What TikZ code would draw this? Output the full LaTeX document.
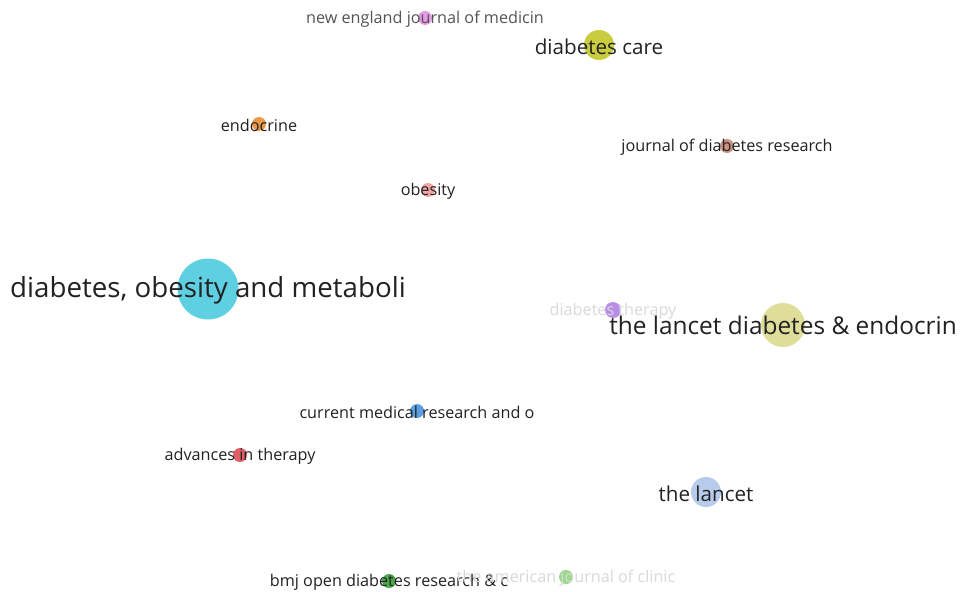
\documentclass[tikz,border=0pt]{standalone}
\usepackage{fontspec}
\setmainfont{Open Sans}
\usepackage{tikz}

% cluster colours
\definecolor{nejmcol}{HTML}{E39BE3}
\definecolor{carecol}{HTML}{C9CC3F}
\definecolor{endocol}{HTML}{EB9A48}
\definecolor{jdrcol}{HTML}{C9917F}
\definecolor{obescol}{HTML}{F2A7A7}
\definecolor{domcol}{HTML}{5FD0E2}
\definecolor{thercol}{HTML}{B98CE6}
\definecolor{ldecol}{HTML}{DEDD9A}
\definecolor{cmrocol}{HTML}{5B9FE0}
\definecolor{advcol}{HTML}{E05F66}
\definecolor{lancol}{HTML}{B7CBEB}
\definecolor{bmjcol}{HTML}{4AA84A}
\definecolor{ajcncol}{HTML}{9BD98C}
\definecolor{labdark}{HTML}{222222}
\definecolor{labgray}{HTML}{555555}
\definecolor{labfaint}{HTML}{D9D9D9}

\tikzset{
    journal/.style={circle,inner sep=0pt,minimum size=#1},
    lab/.style={font=\fontsize{#1}{#1}\selectfont,inner sep=0pt,yshift=-1.5pt},
}

\begin{document}
\begin{tikzpicture}[x=1pt,y=-1pt]
        \useasboundingbox[fill=white] (0,0) rectangle (960,591);
        % circles first, labels on top
        \foreach \nm/\px/\py/\d/\col in {nejm/425/18/14/nejmcol, care/599/45/30/carecol,
            endo/259/124/14/endocol, jdr/727/146/14/jdrcol, obes/428/190/14/obescol,
            dom/208/289/61/domcol, ther/613/310/16/thercol, lde/783/325/44/ldecol,
            cmro/417/411/14/cmrocol, adv/240/455/14/advcol, lancet/706/492/30/lancol,
            bmj/389/581/14/bmjcol, ajcn/566/577/14/ajcncol} {
            \node[journal=\d pt,fill=\col] (\nm) at (\px,\py) {};
        }
        \foreach \nm/\fs/\tc/\txt in {nejm/16.2/labgray/{new england journal of medicin},
            care/20.6/labdark/{diabetes care}, endo/16.2/labdark/{endocrine},
            jdr/16.2/labdark/{journal of diabetes research}, obes/16.2/labdark/{obesity},
            dom/27.7/labdark/{diabetes, obesity and metaboli}, ther/16.2/labfaint/{diabetes therapy},
            cmro/16.2/labdark/{current medical research and o}, adv/16.2/labdark/{advances in therapy},
            lancet/20.6/labdark/{the lancet}, bmj/16.2/labdark/{bmj open diabetes research \& c},
            ajcn/16.2/labfaint/{the american journal of clinic}} {
            \node[lab=\fs,text=\tc] (\nm-lab) at (\nm) {\txt};
        }
        \node[lab=24.4,text=labdark] (lde-lab) at (783,324) {the lancet diabetes \& endocrin};
    \end{tikzpicture}
\end{document}
